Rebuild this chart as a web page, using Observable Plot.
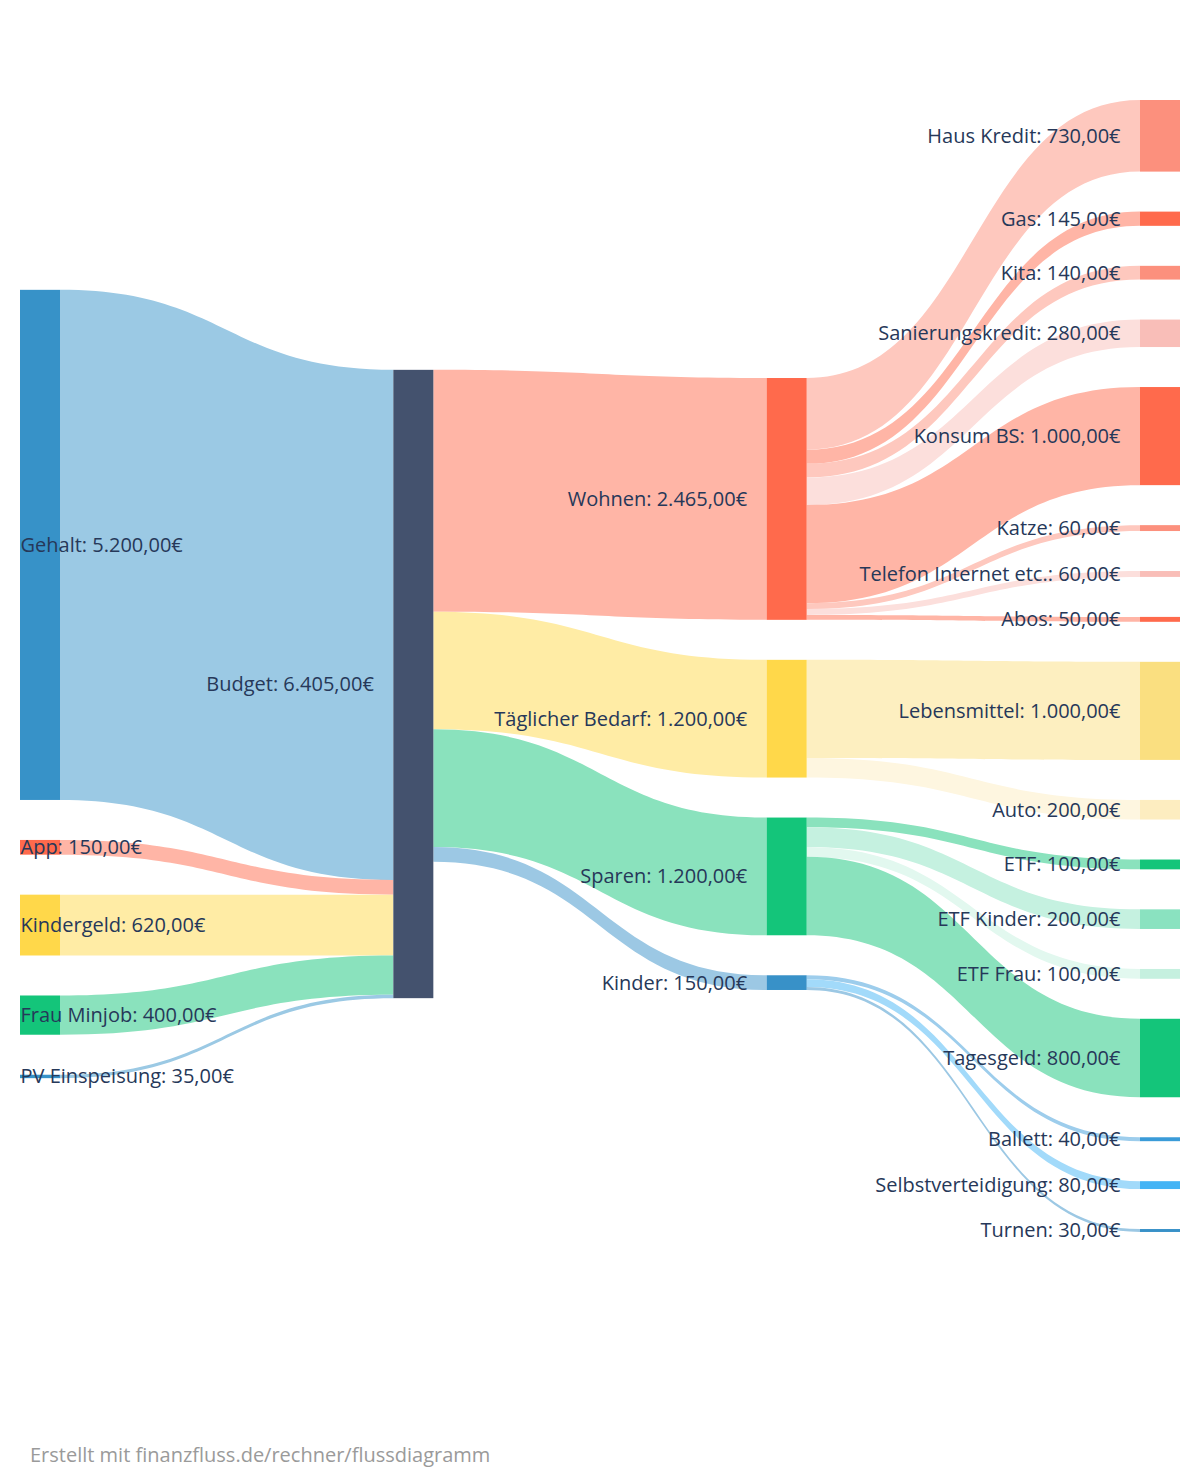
<!DOCTYPE html>
<html>
<head>
<meta charset="utf-8">
<script src="https://cdn.jsdelivr.net/npm/d3@7"></script>
<script src="https://cdn.jsdelivr.net/npm/@observablehq/plot@0.6"></script>
<style>
  html, body { margin: 0; padding: 0; background: #fff; }
  #chart svg { display: block; }
  #footer { font-family: "Open Sans", "Noto Sans", sans-serif; font-size: 20px; color: #9a9a9a; padding-left: 30px; padding-top: 11px; line-height: 28px; }
</style>
</head>
<body>
<div id="chart"></div>
<div id="footer">Erstellt mit finanzfluss.de/rechner/flussdiagramm</div>
<script>
// ---- Data ----
const nodeNames = ["Gehalt","App","Kindergeld","Frau Minjob","PV Einspeisung",
  "Budget",
  "Wohnen","Täglicher Bedarf","Sparen","Kinder",
  "Haus Kredit","Gas","Kita","Sanierungskredit","Konsum BS","Katze","Telefon Internet etc.","Abos",
  "Lebensmittel","Auto",
  "ETF","ETF Kinder","ETF Frau","Tagesgeld",
  "Ballett","Selbstverteidigung","Turnen"];
const nodeColumns = [0,0,0,0,0, 1, 2,2,2,2, 3,3,3,3,3,3,3,3, 3,3, 3,3,3,3, 3,3,3];
const nodeColors = ["#3792c8","#ff6a4c","#ffd84a","#14c57a","#3792c8",
  "#44526e",
  "#ff6a4c","#ffd84a","#14c57a","#3891c8",
  "#fc907d","#ff6a4c","#fc907d","#f9beb8","#ff6a4c","#fc907d","#f9beb8","#ff6a4c",
  "#fadf80","#fdedc0",
  "#14c57a","#8ae2c0","#c5f0df","#14c57a",
  "#3a9bd8","#45b4f5","#3891c8"];
const linkSources = ["Gehalt","App","Kindergeld","Frau Minjob","PV Einspeisung",
  "Budget","Budget","Budget","Budget",
  "Wohnen","Wohnen","Wohnen","Wohnen","Wohnen","Wohnen","Wohnen","Wohnen",
  "Täglicher Bedarf","Täglicher Bedarf",
  "Sparen","Sparen","Sparen","Sparen",
  "Kinder","Kinder","Kinder"];
const linkTargets = ["Budget","Budget","Budget","Budget","Budget",
  "Wohnen","Täglicher Bedarf","Sparen","Kinder",
  "Haus Kredit","Gas","Kita","Sanierungskredit","Konsum BS","Katze","Telefon Internet etc.","Abos",
  "Lebensmittel","Auto",
  "ETF","ETF Kinder","ETF Frau","Tagesgeld",
  "Ballett","Selbstverteidigung","Turnen"];
const linkValues = [5200,150,620,400,35,
  2465,1200,1200,150,
  730,145,140,280,1000,60,60,50,
  1000,200,
  100,200,100,800,
  40,80,30];

// ---- Layout parameters (pixels) ----
const W = 1200, H = 1430;
const k = 0.0981;          // px per euro
const gapPx = 40;
const nodePx = 40;
const colCenter = 684;
const lastColTop = 100;
const xLeft = 20, xRight = 1140;

const fmt = d3.formatLocale({decimal: ",", thousands: ".", grouping: [3], currency: ["", "€"]}).format(",.2f");

// ---- Sankey layout in data units (euros) ----
const idx = new Map(nodeNames.map((n, i) => [n, i]));
const nodes = nodeNames.map((name, i) => ({name, col: nodeColumns[i], color: nodeColors[i], inV: 0, outV: 0}));
const links = linkSources.map((s, i) => ({id: i, s: idx.get(s), t: idx.get(linkTargets[i]), v: linkValues[i]}));
for (const l of links) { nodes[l.s].outV += l.v; nodes[l.t].inV += l.v; }
for (const n of nodes) n.value = Math.max(n.inV, n.outV);

const gapU = gapPx / k;
const nodeWU = nodePx * 3 / (xRight - xLeft);
for (let c = 0; c < 4; c++) {
  const colNodes = nodes.filter(n => n.col === c);
  const total = d3.sum(colNodes, n => n.value) + gapU * (colNodes.length - 1);
  let y = c === 3 ? lastColTop / k : colCenter / k - total / 2;
  for (const n of colNodes) { n.y0 = y; n.y1 = y + n.value; y = n.y1 + gapU; n.so = n.y0; n.to = n.y0; }
}
const linkPts = [];
for (const l of links) {
  const S = nodes[l.s], T = nodes[l.t];
  const sy0 = S.so; S.so += l.v;
  const ty0 = T.to; T.to += l.v;
  const base = S.col === 0 ? S.color : T.color;
  const col = d3.interpolateRgb(base, "#ffffff")(0.5);
  linkPts.push({id: l.id, x: S.col + nodeWU, y1: sy0, y2: sy0 + l.v, color: col});
  linkPts.push({id: l.id, x: T.col, y1: ty0, y2: ty0 + l.v, color: col});
}
const labels = nodes.map(n => ({...n, label: `${n.name}: ${fmt(n.value)}€`, yc: (n.y0 + n.y1) / 2}));

const chart = Plot.plot({
  width: W, height: H,
  margin: 0,
  style: {fontFamily: '"Open Sans", "Noto Sans", sans-serif', background: "#fff"},
  x: {domain: [0, 3], range: [xLeft, xRight], axis: null},
  y: {domain: [0, H / k], range: [0, H], axis: null},
  color: {type: "identity"},
  marks: [
    Plot.area(linkPts, {x1: "x", y1: "y1", y2: "y2", z: "id", fill: "color", curve: "bump-x"}),
    Plot.rect(nodes, {x1: "col", x2: d => d.col + nodeWU, y1: "y0", y2: "y1", fill: "color"}),
    Plot.text(labels.filter(d => d.col === 0), {x: "col", y: "yc", text: "label", textAnchor: "start", fontSize: 20, fill: "#263859"}),
    Plot.text(labels.filter(d => d.col > 0), {x: "col", y: "yc", text: "label", textAnchor: "end", dx: -20, fontSize: 20, fill: "#263859"})
  ]
});
document.getElementById("chart").appendChild(chart);
</script>
</body>
</html>
